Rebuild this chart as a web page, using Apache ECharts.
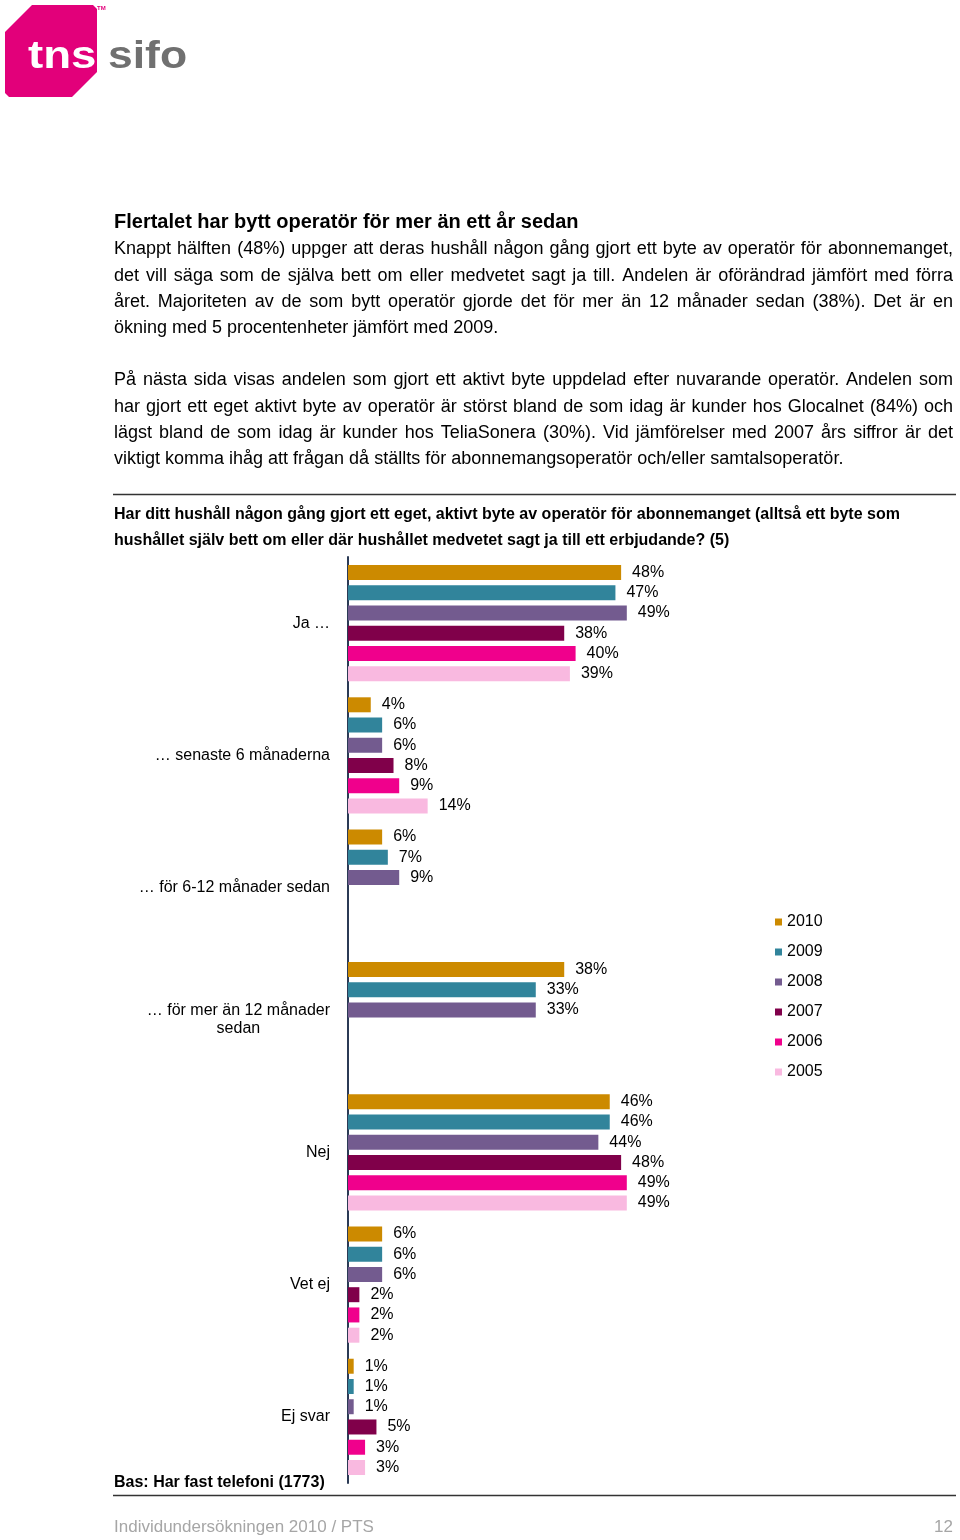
<!DOCTYPE html>
<html>
<head>
<meta charset="utf-8">
<script src="https://cdn.jsdelivr.net/npm/echarts@6/dist/echarts.min.js"></script>
<style>
html,body{margin:0;padding:0;background:#fff;}
#chart{width:960px;height:1540px;}
</style>
</head>
<body>
<div id="chart"></div>
<script>
const categories = ['Ja …', '… senaste 6 månaderna', '… för 6-12 månader sedan', '… för mer än 12 månader\nsedan', 'Nej', 'Vet ej', 'Ej svar'];
const seriesNames = ['2010', '2009', '2008', '2007', '2006', '2005'];
const v2010 = [48, 4, 6, 38, 46, 6, 1];
const v2009 = [47, 6, 7, 33, 46, 6, 1];
const v2008 = [49, 6, 9, 33, 44, 6, 1];
const v2007 = [38, 8, null, null, 48, 2, 5];
const v2006 = [40, 9, null, null, 49, 2, 3];
const v2005 = [39, 14, null, null, 49, 2, 3];
const seriesValues = [v2010, v2009, v2008, v2007, v2006, v2005];
const colors = ['#CC8A00', '#31849B', '#735B8F', '#80004A', '#F0008C', '#F9B9E0'];

const titleText = 'Flertalet har bytt operatör för mer än ett år sedan';
const para1 = [
  'Knappt hälften (48%) uppger att deras hushåll någon gång gjort ett byte av operatör för abonnemanget,',
  'det vill säga som de själva bett om eller medvetet sagt ja till. Andelen är oförändrad jämfört med förra',
  'året. Majoriteten av de som bytt operatör gjorde det för mer än 12 månader sedan (38%). Det är en',
  'ökning med 5 procentenheter jämfört med 2009.'
];
const para2 = [
  'På nästa sida visas andelen som gjort ett aktivt byte uppdelad efter nuvarande operatör. Andelen som',
  'har gjort ett eget aktivt byte av operatör är störst bland de som idag är kunder hos Glocalnet (84%) och',
  'lägst bland de som idag är kunder hos TeliaSonera (30%). Vid jämförelser med 2007 års siffror är det',
  'viktigt komma ihåg att frågan då ställts för abonnemangsoperatör och/eller samtalsoperatör.'
];
const question = [
  'Har ditt hushåll någon gång gjort ett eget, aktivt byte av operatör för abonnemanget (alltså ett byte som',
  'hushållet själv bett om eller där hushållet medvetet sagt ja till ett erbjudande? (5)'
];
const baseText = 'Bas: Har fast telefoni (1773)';
const footerText = 'Individundersökningen 2010 / PTS';
const pageNo = '12';

const measureCtx = document.createElement('canvas').getContext('2d');
function measure(t, font) { measureCtx.font = font; return measureCtx.measureText(t).width; }

function justified(lines, x, y0, lh, width, font, fill) {
  const out = [];
  lines.forEach((line, i) => {
    const y = y0 + i * lh;
    if (i === lines.length - 1) {
      out.push({type: 'text', style: {x: x, y: y, text: line, font: font, fill: fill, textVerticalAlign: 'middle'}});
      return;
    }
    const words = line.split(' ');
    const ws = words.map(w => measure(w, font));
    const total = ws.reduce((a, b) => a + b, 0);
    let gap = (width - total) / (words.length - 1);
    if (gap < 2) gap = 2;
    let cx = x;
    words.forEach((w, k) => {
      out.push({type: 'text', style: {x: cx, y: y, text: w, font: font, fill: fill, textVerticalAlign: 'middle'}});
      cx += ws[k] + gap;
    });
  });
  return out;
}

const bodyFont = '18px "Liberation Sans", Arial, sans-serif';
const narrowBold = 'bold 16px "Liberation Sans Narrow", "Arial Narrow", "Liberation Sans", sans-serif';
const logoFont = 'bold 38px "Liberation Sans", Arial, sans-serif';

const graphics = [
  // logo
  {type: 'polygon', shape: {points: [[32,5],[93,5],[97,9],[97,72],[72,97],[9,97],[5,93],[5,32]]}, style: {fill: '#E2007A'}},
  {type: 'text', x: 28, y: 58, scaleX: 1.2, style: {x: 0, y: 0, text: 'tns', font: logoFont, fill: '#fff', textVerticalAlign: 'middle'}},
  {type: 'text', x: 108, y: 58, scaleX: 1.17, style: {x: 0, y: 0, text: 'sifo', font: logoFont, fill: '#707070', textVerticalAlign: 'middle'}},
  {type: 'text', style: {x: 97, y: 8, text: 'TM', font: 'bold 6px "Liberation Sans", Arial, sans-serif', fill: '#E2007A', textVerticalAlign: 'middle'}},
  // title
  {type: 'text', style: {x: 114, y: 222, text: titleText, font: 'bold 20px "Liberation Sans", Arial, sans-serif', fill: '#000', textVerticalAlign: 'middle'}},
  // separator lines
  {type: 'line', shape: {x1: 113, y1: 494.5, x2: 956, y2: 494.5}, style: {stroke: '#333', lineWidth: 1.5}},
  {type: 'line', shape: {x1: 113, y1: 1495.5, x2: 956, y2: 1495.5}, style: {stroke: '#333', lineWidth: 1.5}},
  {type: 'text', style: {x: 114, y: 1483, text: baseText, font: narrowBold, fill: '#000', textVerticalAlign: 'middle'}},
  {type: 'text', style: {x: 114, y: 1527, text: footerText, font: '17px "Liberation Sans Narrow", "Arial Narrow", "Liberation Sans", sans-serif', fill: '#A6A6A6', textVerticalAlign: 'middle'}},
  {type: 'text', style: {x: 953, y: 1527, text: pageNo, font: '17px "Liberation Sans Narrow", "Arial Narrow", "Liberation Sans", sans-serif', fill: '#A6A6A6', textAlign: 'right', textVerticalAlign: 'middle'}}
].concat(
  justified(para1, 114, 249.5, 26.3, 839, bodyFont, '#000'),
  justified(para2, 114, 380.5, 26.3, 839, bodyFont, '#000'),
  question.map((q, i) => ({type: 'text', style: {x: 114, y: 515 + i * 26, text: q, font: narrowBold, fill: '#000', textVerticalAlign: 'middle'}}))
);

const chart = echarts.init(document.getElementById('chart'), null, {renderer: 'canvas'});
chart.setOption({
  animation: false,
  backgroundColor: '#fff',
  textStyle: {fontFamily: '"Liberation Sans", Arial, sans-serif'},
  grid: {left: 348, top: 557, width: 569, height: 926, containLabel: false},
  xAxis: {type: 'value', min: 0, max: 100, show: false},
  yAxis: {
    type: 'category', inverse: true, data: categories,
    axisLine: {show: true, lineStyle: {color: '#2B3A55', width: 2}},
    axisTick: {show: false},
    splitLine: {show: false},
    axisLabel: {
      margin: 18, color: '#000', fontSize: 16,
      formatter: v => v.split('\n').map(s => '{c|' + s + '}').join('\n'),
      rich: {c: {align: 'center', fontSize: 16, color: '#000', lineHeight: 18}}
    }
  },
  legend: {
    orient: 'vertical', left: 775, top: 914, padding: 0,
    itemWidth: 7, itemHeight: 7, itemGap: 14,
    icon: 'rect',
    textStyle: {fontSize: 16, color: '#000', padding: [0, 0, 0, 0]},
    data: seriesNames
  },
  series: seriesNames.map((n, i) => ({
    name: n, type: 'bar',
    data: seriesValues[i],
    barWidth: 15, barGap: '35%',
    itemStyle: {color: colors[i]},
    label: {show: true, position: 'right', distance: 11, formatter: '{c}%', fontSize: 16, color: '#000'}
  })),
  graphic: graphics
});
</script>
</body>
</html>
